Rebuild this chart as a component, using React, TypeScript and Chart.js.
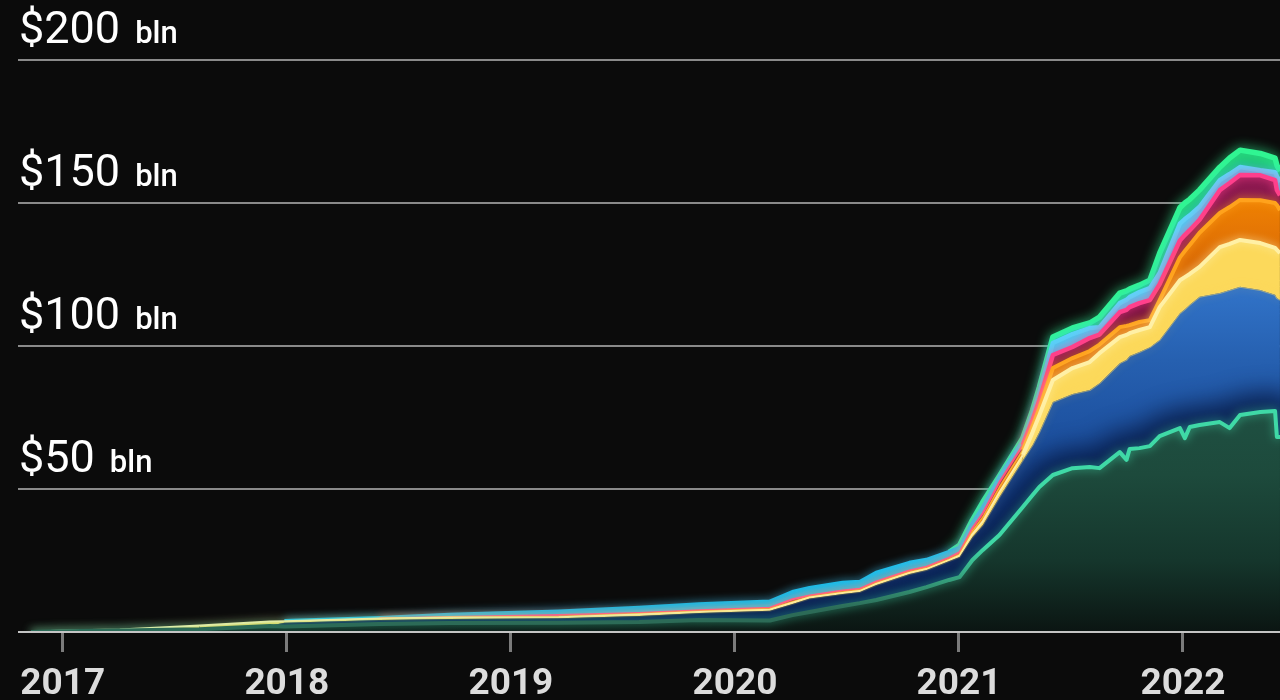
import React, { useEffect, useRef } from "react";
import { Chart, registerables } from "chart.js";

Chart.register(...registerables);

// ---- data (billions of USD) ----
const dates = [
  "2016-11-10", "2017-01-01", "2017-04-04", "2017-08-12", "2017-12-04", "2017-12-28",
  "2018-06-01", "2018-09-23", "2019-03-20", "2019-07-29", "2019-11-04", "2020-02-27",
  "2020-04-04", "2020-05-02", "2020-06-25", "2020-07-23", "2020-08-19", "2020-10-12",
  "2020-11-09", "2020-12-16", "2021-01-02", "2021-01-23", "2021-02-09", "2021-03-08",
  "2021-04-15", "2021-05-01", "2021-05-12", "2021-06-03", "2021-07-05", "2021-08-02",
  "2021-08-18", "2021-09-20", "2021-10-01", "2021-10-06", "2021-10-22", "2021-11-08",
  "2021-11-24", "2021-12-27", "2022-01-04", "2022-01-12", "2022-01-28", "2022-03-02",
  "2022-03-18", "2022-04-04", "2022-05-07", "2022-05-31", "2022-06-03", "2022-06-08",
];
const usdt = [
  0, 0.28, 0.49, 1.0, 2.1, 1.9, 2.8, 3.15, 3.25, 3.5, 4.2, 4.0,
  5.9, 7.0, 9.1, 10.1, 11.2, 14.0, 15.7, 18.2, 19.2, 25.2, 28.7, 33.9,
  43.7, 47.9, 50.7, 54.9, 57.3, 57.7, 57.3, 62.9, 60.2, 64.0, 64.3, 65.0,
  68.5, 71.3, 67.8, 71.7, 72.4, 73.4, 71.3, 75.9, 76.9, 77.3, 68.2, 68.2,
];
const usdc = [
  0, 0, 0, 0, 0.1, 1.3, 1.4, 1.4, 1.55, 2.1, 2.45, 3.4,
  3.85, 4.7, 4.2, 3.85, 5.25, 6.3, 5.95, 6.6, 7.0, 8.0, 8.7, 13.3,
  16.4, 17.5, 19.2, 25.5, 25.9, 26.9, 29.7, 31.1, 35.0, 32.5, 33.6, 34.6,
  33.6, 40.2, 45.1, 42.7, 44.8, 45.1, 48.3, 44.8, 42.7, 40.6, 48.6, 47.9,
];
const busd = [
  0.05, 0.24, 0.38, 1.3, 1.5, 0.6, 0.5, 0.5, 0.35, 0.5, 0.35, 0.4,
  0.5, 0.35, 0.35, 0.35, 0.35, 0.35, 0.35, 0.35, 0.5, 1.05, 1.4, 1.75,
  1.75, 4.5, 5.9, 7.7, 9.1, 9.8, 10.5, 9.1, 8.7, 8.0, 7.7, 7.0,
  11.5, 11.5, 11.2, 10.8, 10.5, 16.1, 16.1, 16.4, 16.4, 16.4, 16.8, 16.4,
];
const dai = [
  0, 0, 0, 0, 0, 0, 0, 0.07, 0.28, 0.25, 0.28, 0.3,
  0.35, 0.3, 0.35, 0.35, 0.35, 0.35, 0.35, 0.35, 0.5, 1.05, 1.4, 1.75,
  1.75, 2.1, 2.45, 4.2, 3.5, 3.85, 3.0, 3.5, 3.15, 2.8, 2.8, 2.45,
  2.45, 8.0, 9.1, 10.1, 11.9, 11.9, 12.9, 14.0, 15.0, 15.7, 15.7, 15.0,
];
const ust = [
  0, 0, 0, 0, 0, 0, 0, 0.1, 0.5, 0.3, 0.35, 0.4,
  0.85, 0.4, 0.5, 0.5, 0.5, 0.5, 0.5, 0.5, 0.7, 1.05, 1.4, 1.75,
  1.75, 2.1, 2.8, 4.55, 3.85, 4.55, 3.5, 5.25, 5.6, 6.3, 6.6, 7.0,
  5.6, 5.9, 5.6, 5.2, 4.55, 8.0, 8.4, 8.7, 8.7, 8.0, 5.2, 5.2,
];
const tusd = [
  0, 0, 0, 0, 0, 0, 0.07, 0.7, 1.15, 1.75, 2.0, 2.05,
  2.45, 2.6, 2.6, 2.3, 3.0, 2.6, 2.3, 1.9, 1.4, 1.4, 1.75, 1.4,
  1.4, 2.1, 2.45, 4.2, 4.55, 3.5, 2.6, 3.15, 3.5, 3.5, 3.85, 4.2,
  3.85, 5.9, 5.6, 5.2, 4.55, 3.5, 3.15, 2.8, 1.75, 2.8, 4.9, 4.55,
];
const others = [
  0, 0, 0, 0, 0, 0, 0, 0, 0, 0, 0, 0,
  0, 0, 0, 0, 0, 0, 0, 0, 1.05, 1.4, 2.1, 0.7,
  1.05, 1.4, 2.1, 2.1, 2.1, 1.75, 3.5, 3.5, 3.15, 2.8, 2.45, 2.8,
  7.0, 5.6, 5.6, 5.6, 5.9, 4.55, 5.6, 5.9, 5.9, 4.9, 3.85, 3.85,
];
const yearTicks = [2017, 2018, 2019, 2020, 2021, 2022];
const valueTicks = [50, 100, 150, 200];
const valueLabels = ["$50", "$100", "$150", "$200"];
const unitLabel = "bln";

function toYear(s: string): number {
  const [y, m, d] = s.split("-").map(Number);
  const t = Date.UTC(y, m - 1, d);
  const t0 = Date.UTC(y, 0, 1);
  const t1 = Date.UTC(y + 1, 0, 1);
  return y + (t - t0) / (t1 - t0);
}

export default function App() {
  const ref = useRef<HTMLCanvasElement>(null);

  useEffect(() => {
    const canvas = ref.current;
    if (!canvas) return;
    const xs = dates.map(toYear);
    const mk = (arr: number[]) => arr.map((v, i) => ({ x: xs[i], y: v }));

    const grad = (stops: [number, string][]) => (c: any) => {
      const ch = c.chart;
      const ys = ch.scales && ch.scales.y;
      if (!ch.chartArea || !ys) return stops[0][1];
      const top = ys.getPixelForValue(stops[0][0]);
      const bot = ys.getPixelForValue(stops[stops.length - 1][0]);
      const g = ch.ctx.createLinearGradient(0, top, 0, bot);
      stops.forEach(([v, col]) => {
        const o = (ys.getPixelForValue(v) - top) / (bot - top);
        g.addColorStop(Math.min(1, Math.max(0, o)), col);
      });
      return g;
    };

    const segStyle = (arr: number[], thin: number) => ({
      borderColor: (s: any) =>
        arr[s.p0DataIndex] === 0 && arr[s.p1DataIndex] === 0 ? "rgba(0,0,0,0)" : undefined,
      borderWidth: (s: any) =>
        thin > 0 && Math.max(arr[s.p0DataIndex], arr[s.p1DataIndex]) < 2 ? thin : undefined,
    });

    const styles = [
      {
        label: "USDT", arr: usdt, fill: "origin",
        bg: grad([[82, "#1f5143"], [55, "#1d4a3c"], [25, "#15362c"], [0, "#0b1512"]]),
        line: grad([[30, "#3fd9a6"], [8, "#2c6b57"]]),
        width: 4, thin: 0, glow: "rgba(63,217,166,0.7)", blur: 10,
      },
      {
        label: "USDC", arr: usdc, fill: "-1",
        bg: grad([[120, "#3173c8"], [95, "#2660b0"], [60, "#1a4c9a"], [30, "#133f8b"], [0, "#0d3486"]]),
        line: "rgba(250,222,110,0.45)",
        width: 2, thin: 0, glow: "rgba(250,215,90,0.6)", blur: 8,
      },
      {
        label: "BUSD", arr: busd, fill: "-1", bg: "#fcd95b", line: "#fff0a6",
        width: 4, thin: 2, glow: "rgba(255,240,170,0.8)", blur: 9,
      },
      {
        label: "DAI", arr: dai, fill: "-1",
        bg: grad([[160, "#f78a00"], [130, "#dc6c06"]]),
        line: "#ffa21c", width: 4, thin: 1.5, glow: "rgba(255,162,28,0.8)", blur: 9,
      },
      {
        label: "UST", arr: ust, fill: "-1",
        bg: grad([[170, "#931b55"], [120, "#7a1341"]]),
        line: "#ff3f8c", width: 4.5, thin: 2, glow: "rgba(255,63,140,0.8)", blur: 9,
      },
      {
        label: "TUSD", arr: tusd, fill: "-1",
        bg: grad([[110, "#58c9f2"], [60, "#3cbfee"], [20, "#12b6e3"]]),
        line: grad([[110, "#5fd3fa"], [40, "#2ac6f2"], [10, "#14bce8"]]),
        width: 4.5, thin: 0, glow: "rgba(60,200,245,0.8)", blur: 9,
      },
      {
        label: "Other", arr: others, fill: "-1", bg: "#1fc272", line: "#30f592",
        width: 5.5, thin: 0, glow: "rgba(48,245,146,0.9)", blur: 12,
      },
    ];

    const datasets = styles.map((s) => ({
      label: s.label,
      data: mk(s.arr),
      fill: s.fill,
      backgroundColor: s.bg,
      borderColor: s.line,
      borderWidth: s.width,
      pointRadius: 0,
      pointHoverRadius: 0,
      tension: 0,
      borderJoinStyle: "round",
      segment: segStyle(s.arr, s.thin),
      glowColor: s.glow,
      glowBlur: s.blur,
    }));

    const glowPlugin = {
      id: "lineGlow",
      beforeDatasetDraw(chart: any, args: any) {
        const ctx = chart.ctx;
        ctx.save();
        const ds = chart.data.datasets[args.index];
        ctx.shadowColor = ds.glowColor || "rgba(0,0,0,0)";
        ctx.shadowBlur = ds.glowBlur || 0;
      },
      afterDatasetDraw(chart: any, args: any) {
        const ctx = chart.ctx;
        ctx.restore();
        if (args.index !== 1) return;
        // darken the USDC band next to the USDT boundary (inner shadow)
        const m0 = chart.getDatasetMeta(0).data;
        const m1 = chart.getDatasetMeta(1).data;
        const ca = chart.chartArea;
        ctx.save();
        ctx.beginPath();
        ctx.rect(ca.left, ca.top, ca.right - ca.left, ca.bottom - ca.top);
        ctx.clip();
        ctx.beginPath();
        m1.forEach((p: any, i: number) => (i ? ctx.lineTo(p.x, p.y) : ctx.moveTo(p.x, p.y)));
        for (let i = m0.length - 1; i >= 0; i--) ctx.lineTo(m0[i].x, m0[i].y);
        ctx.closePath();
        ctx.clip();
        ctx.filter = "blur(12px)";
        ctx.strokeStyle = "rgba(3,16,52,0.75)";
        ctx.lineWidth = 38;
        ctx.lineJoin = "round";
        ctx.beginPath();
        m0.forEach((p: any, i: number) => (i ? ctx.lineTo(p.x, p.y) : ctx.moveTo(p.x, p.y)));
        ctx.stroke();
        ctx.restore();
      },
    };

    const textPlugin = {
      id: "labels",
      afterDraw(chart: any) {
        const ctx = chart.ctx;
        const ca = chart.chartArea;
        const xS = chart.scales.x;
        const yS = chart.scales.y;
        ctx.save();
        // baseline
        ctx.strokeStyle = "#c4c4c4";
        ctx.lineWidth = 2;
        ctx.beginPath();
        ctx.moveTo(ca.left, ca.bottom);
        ctx.lineTo(ca.right, ca.bottom);
        ctx.stroke();
        // y labels
        ctx.fillStyle = "#ffffff";
        ctx.textBaseline = "alphabetic";
        ctx.textAlign = "left";
        valueTicks.forEach((v, i) => {
          const y = yS.getPixelForValue(v) - 17;
          ctx.font = "400 45px Roboto";
          ctx.fillText(valueLabels[i], 19, y);
          const w = ctx.measureText(valueLabels[i]).width;
          ctx.font = "500 31px Roboto";
          ctx.fillText(unitLabel, 19 + w + 15, y);
        });
        // x labels
        ctx.fillStyle = "#dcdcdc";
        ctx.font = "700 37px Roboto";
        ctx.textAlign = "center";
        yearTicks.forEach((yr) => {
          ctx.fillText(String(yr), xS.getPixelForValue(yr), 694);
        });
        ctx.restore();
      },
    };

    const chart = new Chart(canvas, {
      type: "line",
      data: { datasets: datasets as any },
      options: {
        responsive: false,
        animation: false,
        devicePixelRatio: 1,
        layout: { padding: { left: 18, right: 0, top: 0, bottom: 0 } },
        plugins: { legend: { display: false }, tooltip: { enabled: false } },
        events: [],
        scales: {
          x: {
            type: "linear",
            min: 2016.8,
            max: 2022.433,
            afterBuildTicks: (s: any) => {
              s.ticks = yearTicks.map((v) => ({ value: v }));
            },
            afterFit: (s: any) => {
              s.height = 68;
            },
            ticks: { display: false },
            border: { display: false },
            grid: {
              drawOnChartArea: false,
              drawTicks: true,
              tickLength: 20,
              color: "#7b7b7b",
              lineWidth: 3,
            },
          },
          y: {
            stacked: true,
            min: 0,
            max: 221,
            afterBuildTicks: (s: any) => {
              s.ticks = [0, ...valueTicks].map((v) => ({ value: v }));
            },
            afterFit: (s: any) => {
              s.width = 0;
            },
            ticks: { display: false },
            border: { display: false },
            grid: {
              drawTicks: false,
              color: (c: any) => (c.tick && c.tick.value === 0 ? "rgba(0,0,0,0)" : "#8a8a8a"),
              lineWidth: 2,
            },
          },
        },
      } as any,
      plugins: [glowPlugin, textPlugin],
    });

    return () => chart.destroy();
  }, []);

  return (
    <div
      style={{
        position: "fixed",
        left: 0,
        top: 0,
        width: 1280,
        height: 700,
        background: "#0b0b0b",
      }}
    >
      <canvas ref={ref} width={1280} height={700} style={{ display: "block" }} />
    </div>
  );
}
